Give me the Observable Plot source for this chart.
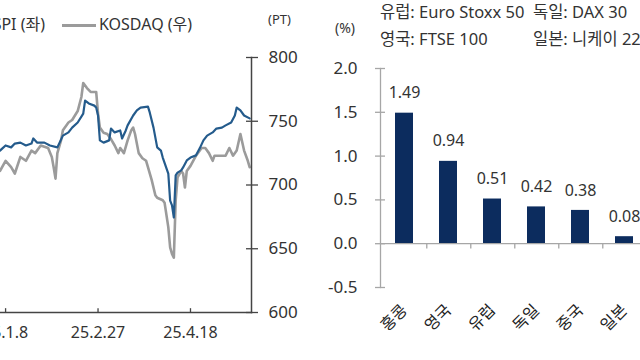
<!DOCTYPE html>
<html><head><meta charset="utf-8">
<script src="https://cdn.jsdelivr.net/npm/d3@7"></script>
<script src="https://cdn.jsdelivr.net/npm/@observablehq/plot@0.6"></script>
<style>
html,body{margin:0;padding:0;background:#fff;}
#wrap{position:relative;width:640px;height:360px;overflow:hidden;font-family:"Noto Sans","Noto Sans CJK KR",sans-serif;color:#333;}
.abs{position:absolute;white-space:nowrap;line-height:1;}
.plot{position:absolute;top:0;}
</style></head><body><div id="wrap"></div>
<script>
// ---- Left chart: KOSPI (left axis, cropped) & KOSDAQ (right axis) ----
const kospiDates = ["2025-01-05","2025-01-08","2025-01-11","2025-01-13","2025-01-16","2025-01-19","2025-01-22","2025-01-23","2025-01-25","2025-01-29","2025-02-01","2025-02-05","2025-02-08","2025-02-11","2025-02-13","2025-02-16","2025-02-19","2025-02-20","2025-02-22","2025-02-25","2025-02-26","2025-02-27","2025-02-28","2025-03-02","2025-03-05","2025-03-06","2025-03-08","2025-03-11","2025-03-12","2025-03-14","2025-03-15","2025-03-18","2025-03-20","2025-03-22","2025-03-26","2025-03-27","2025-03-29","2025-03-31","2025-04-02","2025-04-03","2025-04-06","2025-04-07","2025-04-08","2025-04-09","2025-04-10","2025-04-11","2025-04-13","2025-04-14","2025-04-16","2025-04-18","2025-04-21","2025-04-23","2025-04-25","2025-04-27","2025-04-30","2025-05-02","2025-05-05","2025-05-07","2025-05-10","2025-05-12","2025-05-13","2025-05-15","2025-05-17","2025-05-20"];
const kospiValues = [2508,2524,2518,2530,2533,2524,2530,2546,2533,2533,2524,2518,2555,2565,2580,2596,2624,2665,2656,2649,2643,2618,2540,2533,2540,2577,2565,2571,2546,2571,2587,2618,2634,2643,2646,2627,2580,2518,2508,2486,2436,2351,2336,2298,2430,2439,2446,2455,2477,2486,2493,2515,2540,2555,2565,2577,2580,2587,2596,2618,2643,2634,2618,2609];
const kosdaqDates = ["2025-01-05","2025-01-08","2025-01-11","2025-01-13","2025-01-16","2025-01-19","2025-01-22","2025-01-24","2025-01-27","2025-01-31","2025-02-02","2025-02-03","2025-02-04","2025-02-05","2025-02-07","2025-02-08","2025-02-11","2025-02-13","2025-02-16","2025-02-18","2025-02-19","2025-02-21","2025-02-23","2025-02-26","2025-02-27","2025-02-28","2025-03-02","2025-03-04","2025-03-06","2025-03-08","2025-03-10","2025-03-11","2025-03-13","2025-03-15","2025-03-17","2025-03-18","2025-03-19","2025-03-21","2025-03-23","2025-03-25","2025-03-26","2025-03-28","2025-03-30","2025-03-31","2025-04-03","2025-04-04","2025-04-06","2025-04-07","2025-04-08","2025-04-09","2025-04-10","2025-04-11","2025-04-13","2025-04-14","2025-04-15","2025-04-16","2025-04-18","2025-04-21","2025-04-24","2025-04-26","2025-04-28","2025-04-30","2025-05-01","2025-05-04","2025-05-07","2025-05-09","2025-05-11","2025-05-13","2025-05-15","2025-05-17","2025-05-19","2025-05-20"];
const kosdaqValues = [711,719,714,709,722,719,727,725,731,729,722,714,705,725,735,743,749,751,758,769,780,776,773,773,756,745,741,740,736,731,725,729,725,735,743,745,740,725,721,719,714,704,692,690,688,686,667,651,646,643,688,706,711,709,698,711,715,723,729,729,725,719,723,723,723,729,723,727,740,727,719,714];
const lineTickDates = ["2025-01-08","2025-02-27","2025-04-18"];
const kosdaqTicks = [600,650,700,750,800];
const kospiDomain = [2000,2800];
const kosdaqDomain = [600,800];
const lineLegend = ["KOSPI (좌)","KOSDAQ (우)"];
const lineUnit = "(PT)";

// ---- Right chart: index returns ----
const countries = ["홍콩","영국","유럽","독일","중국","일본","미국"];
const returns = [1.49,0.94,0.51,0.42,0.38,0.08,null];
const returnTicks = [-0.5,0,0.5,1.0,1.5,2.0];
const barUnit = "(%)";
const barLegend = [["유럽: Euro Stoxx 50","독일: DAX 30"],["영국: FTSE 100","일본: 니케이 225"]];

const FONT = '"Noto Sans","Noto Sans CJK KR",sans-serif';
const parse = s => new Date(s + "T00:00:00Z");
const toRight = v => kosdaqDomain[0] + (v - kospiDomain[0]) * (kosdaqDomain[1]-kosdaqDomain[0]) / (kospiDomain[1]-kospiDomain[0]);
const kospiRows = kospiDates.map((d,i)=>({date: parse(d), value: kospiValues[i], y: toRight(kospiValues[i])}));
const kosdaqRows = kosdaqDates.map((d,i)=>({date: parse(d), value: kosdaqValues[i]}));
const tickDates = lineTickDates.map(parse);
const fmtDate = d => `${d.getUTCFullYear()%100}.${d.getUTCMonth()+1}.${d.getUTCDate()}`;

const wrap = document.getElementById("wrap");

const left = Plot.plot({
  width: 320, height: 360, marginLeft: 0, marginRight: 69, marginTop: 57, marginBottom: 48,
  style: {fontFamily: FONT, fontSize: "17px", color: "#333", background: "transparent", overflow: "visible"},
  x: {type: "utc", domain: [new Date("2025-01-05T06:00:00Z"), new Date("2025-05-21T00:00:00Z")], label: null},
  y: {domain: kosdaqDomain, label: null},
  marks: [
    Plot.line(kosdaqRows, {x: "date", y: "value", stroke: "#9b9b9b", strokeWidth: 2.6, strokeLinejoin: "round"}),
    Plot.line(kospiRows, {x: "date", y: "y", stroke: "#245b8c", strokeWidth: 2.2, strokeLinejoin: "round"}),
    Plot.frame({anchor: "bottom", stroke: "#444", strokeWidth: 1.5}),
    Plot.frame({anchor: "right", stroke: "#444", strokeWidth: 1.5}),
    Plot.ruleX(tickDates, {x: d => d, y1: kosdaqDomain[0], y2: kosdaqDomain[0] + 3, stroke: "#444", strokeWidth: 1.3}),
    Plot.axisX(tickDates, {anchor: "bottom", tickSize: 0, tickPadding: 14, tickFormat: fmtDate, fontSize: 16, fill: "#333"}),
    Plot.axisY(kosdaqTicks, {anchor: "right", tickSize: 12, dx: -6, tickFormat: () => "", stroke: "#444", strokeWidth: 1.3}),
    Plot.axisY(kosdaqTicks, {anchor: "right", tickSize: 0, tickPadding: 17, fontSize: 17, fill: "#333"})
  ]
});
left.classList.add("plot");
left.style.left = "0px";
wrap.appendChild(left);

const nCat = countries.length;
const rW = 372, rML = 60;
const step = (rW - rML) / nCat;
const barRows = countries.map((c,i)=>({country: c, value: returns[i]})).filter(d => d.value != null);

const right = Plot.plot({
  width: rW, height: 360, marginLeft: rML, marginRight: 0, marginTop: 68, marginBottom: 73,
  style: {fontFamily: FONT, fontSize: "17px", color: "#333", background: "transparent", overflow: "visible"},
  x: {domain: countries, paddingInner: 0.6, paddingOuter: 0.3, label: null},
  y: {domain: [-0.5, 2.0], label: null},
  marks: [
    Plot.barY(barRows, {x: "country", y: "value", fill: "#0c2c5e"}),
    Plot.ruleY([0], {stroke: "#a6a6a6", strokeWidth: 1.3}),
    Plot.ruleX(countries.slice(0, -1), {x: d => d, y1: 0, y2: -0.06, dx: step/2, stroke: "#a6a6a6", strokeWidth: 1.3}),
    Plot.frame({anchor: "left", stroke: "#a6a6a6", strokeWidth: 1.3}),
    Plot.axisY(returnTicks, {anchor: "left", tickSize: 10, dx: 5, tickFormat: () => "", stroke: "#a6a6a6", strokeWidth: 1.3}),
    Plot.axisY(returnTicks, {anchor: "left", tickSize: 0, tickPadding: 23, tickFormat: d => d.toFixed(1), fontSize: 17, fill: "#333"}),
    Plot.axisX({anchor: "bottom", tickSize: 0, tickPadding: 20, tickRotate: -45, fontSize: 16, fill: "#222"}),
    Plot.text(barRows, {x: "country", y: "value", text: d => d.value.toFixed(2), dy: -20, fontSize: 16, fill: "#333"})
  ]
});
right.classList.add("plot");
right.style.left = "320px";
wrap.appendChild(right);

function addText(txt, css) {
  const el = document.createElement("div");
  el.className = "abs";
  el.textContent = txt;
  Object.assign(el.style, css);
  wrap.appendChild(el);
  return el;
}
function addLine(color, css) {
  const el = document.createElement("div");
  el.className = "abs";
  Object.assign(el.style, {background: color}, css);
  wrap.appendChild(el);
}
// left legend
addText(lineLegend[0], {right: "595px", top: "16px", fontSize: "16px"});
addLine("#245b8c", {right: "650px", top: "24px", width: "33px", height: "2.5px"});
addLine("#9b9b9b", {left: "62px", top: "24px", width: "34px", height: "2.5px"});
addText(lineLegend[1], {left: "99px", top: "16px", fontSize: "16px"});
addText(lineUnit, {left: "268px", top: "13px", fontSize: "13px"});
// right legend
addText(barUnit, {left: "335px", top: "21px", fontSize: "14px"});
addText(barLegend[0][0], {left: "380px", top: "4px", fontSize: "16.5px"});
addText(barLegend[0][1], {left: "533px", top: "4px", fontSize: "16.5px"});
addText(barLegend[1][0], {left: "380px", top: "31px", fontSize: "16.5px"});
addText(barLegend[1][1], {left: "533px", top: "31px", fontSize: "16.5px"});
</script></body></html>
